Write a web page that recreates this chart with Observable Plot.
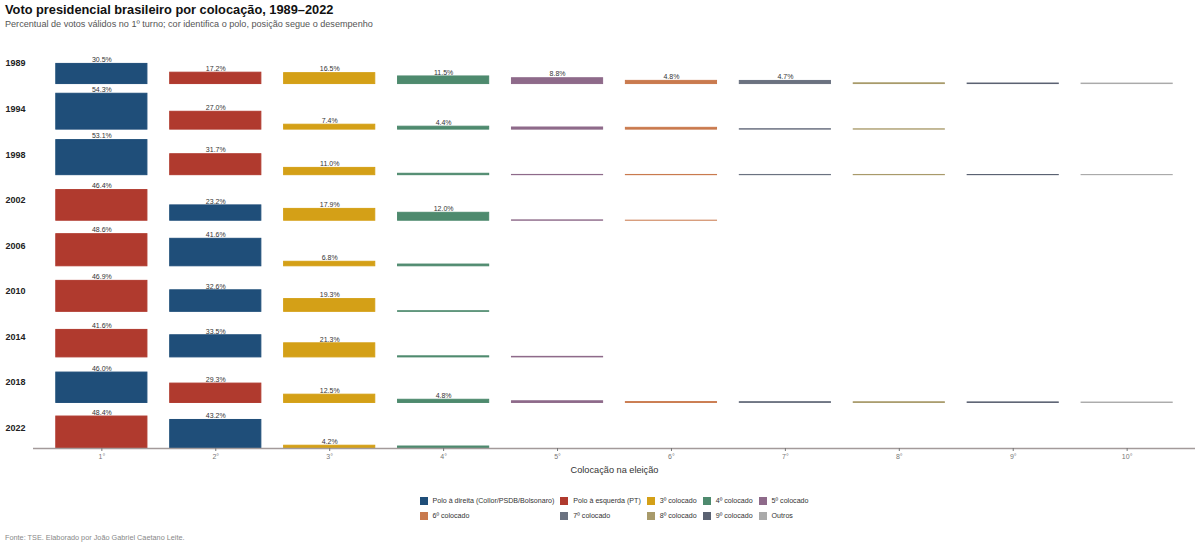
<!DOCTYPE html>
<html>
<head>
<meta charset="utf-8">
<script src="https://cdn.jsdelivr.net/npm/d3@7"></script>
<script src="https://cdn.jsdelivr.net/npm/@observablehq/plot@0.6"></script>
<style>
  body { margin:0; background:#fff; font-family:"Liberation Sans", Arial, sans-serif; }
  #wrap { position:relative; width:1200px; height:546px; overflow:hidden; }
  #title { position:absolute; left:5px; top:2px; font-size:12.8px; font-weight:bold; color:#111; line-height:16px; }
  #subtitle { position:absolute; left:5px; top:18px; font-size:9.1px; color:#555; line-height:12px; }
  #chart { position:absolute; left:0; top:32px; }
  #legend { position:absolute; left:0; width:1200px; top:496px; display:flex; justify-content:center; padding-left:28px; box-sizing:border-box; }
  #legend .grid { display:grid; grid-template-columns:repeat(5, auto); column-gap:6px; row-gap:5px; font-size:7.1px; color:#333; }
  #legend .item { display:flex; align-items:center; white-space:nowrap; line-height:10px; }
  #legend .sw { width:8px; height:8px; margin-right:5px; flex:none; }
  #caption { position:absolute; left:5px; top:533px; font-size:7.3px; color:#888; }
</style>
</head>
<body>
<div id="wrap">
  <div id="title">Voto presidencial brasileiro por colocação, 1989–2022</div>
  <div id="subtitle">Percentual de votos válidos no 1º turno; cor identifica o polo, posição segue o desempenho</div>
  <div id="chart"></div>
  <div id="legend"><div class="grid"></div></div>
  <div id="caption">Fonte: TSE. Elaborado por João Gabriel Caetano Leite.</div>
</div>
<script>
// ---- data ----
const years = [1989, 1994, 1998, 2002, 2006, 2010, 2014, 2018, 2022];
const positions = ["1°", "2°", "3°", "4°", "5°", "6°", "7°", "8°", "9°", "10°"];
const v1989 = [30.5, 17.2, 16.5, 11.5, 8.8, 4.8, 4.7, 1.1, 0.8, 0.7];
const v1994 = [54.3, 27.0, 7.4, 4.4, 3.2, 2.7, 0.6, 0.4];
const v1998 = [53.1, 31.7, 11.0, 2.1, 0.35, 0.31, 0.30, 0.29, 0.25, 0.25];
const v2002 = [46.4, 23.2, 17.9, 12.0, 0.5, 0.04];
const v2006 = [48.6, 41.6, 6.8, 2.6];
const v2010 = [46.9, 32.6, 19.3, 0.9];
const v2014 = [41.6, 33.5, 21.3, 1.6, 0.8];
const v2018 = [46.0, 29.3, 12.5, 4.8, 2.5, 1.3, 1.2, 1.0, 0.8, 0.6];
const v2022 = [48.4, 43.2, 4.2, 3.0];
const valuesByYear = [v1989, v1994, v1998, v2002, v2006, v2010, v2014, v2018, v2022];
// placement (1-based) of each pole per year
const rightPolePos = [1, 1, 1, 2, 2, 2, 2, 1, 2];
const leftPolePos  = [2, 2, 2, 1, 1, 1, 1, 2, 1];
const categories = ["Polo à direita (Collor/PSDB/Bolsonaro)", "Polo à esquerda (PT)", "3º colocado", "4º colocado", "5º colocado",
                    "6º colocado", "7º colocado", "8º colocado", "9º colocado", "Outros"];
const catColors = ["#1f4e79", "#b03a2e", "#d4a017", "#4e8a6e", "#8e6a8a", "#c97a4e", "#6b7280", "#a89a6a", "#5b6272", "#aaaaaa"];

// ---- derived table ----
const STEP = 69; // vertical offset between rows, in percentage units
const rows = [];
years.forEach((year, i) => {
  const base = (years.length - 1 - i) * STEP;
  valuesByYear[i].forEach((value, j) => {
    const p = j + 1;
    let cat;
    if (p === rightPolePos[i]) cat = categories[0];
    else if (p === leftPolePos[i]) cat = categories[1];
    else if (p <= 9) cat = `${p}º colocado`;
    else cat = "Outros";
    rows.push({year, pos: positions[j], value, base, top: base + value, cat});
  });
});
const yearLabels = years.map((year, i) => ({year, y: (years.length - 1 - i) * STEP + 31}));

const chart = Plot.plot({
  width: 1200,
  height: 450,
  marginLeft: 33,
  marginRight: 5,
  marginTop: 6,
  marginBottom: 34,
  x: {type: "band", domain: positions, padding: 0.2, round: false, label: null},
  y: {domain: [0, years.length * STEP], axis: null},
  color: {domain: categories, range: catColors},
  style: {fontFamily: "Liberation Sans, Arial, sans-serif", background: "transparent"},
  marks: [
    Plot.barY(rows, {x: "pos", y1: "base", y2: "top", fill: "cat", stroke: "cat", strokeWidth: 1}),
    Plot.ruleY([0], {stroke: "#a39a9a", strokeWidth: 1.3}),
    Plot.axisX({tickSize: 3, tickPadding: 3, fontSize: 7, color: "#777", label: null}),
    Plot.text(["Colocação na eleição"], {frameAnchor: "bottom", dy: 24, fontSize: 9.2, fill: "#333"}),
    Plot.text(rows.filter(d => d.value >= 4), {x: "pos", y: "top", text: d => d.value.toFixed(1) + "%", dy: -4, fontSize: 7, fill: "#333"}),
    Plot.text(yearLabels, {y: "y", text: d => String(d.year), frameAnchor: "left", dx: -28, textAnchor: "start", fontWeight: "bold", fontSize: 9, fill: "#222"})
  ]
});
document.getElementById("chart").appendChild(chart);

// ---- legend ----
const grid = document.querySelector("#legend .grid");
categories.forEach((c, i) => {
  const item = document.createElement("div");
  item.className = "item";
  const sw = document.createElement("span");
  sw.className = "sw";
  sw.style.background = catColors[i];
  const t = document.createElement("span");
  t.textContent = c;
  item.appendChild(sw);
  item.appendChild(t);
  grid.appendChild(item);
});
</script>
</body>
</html>
